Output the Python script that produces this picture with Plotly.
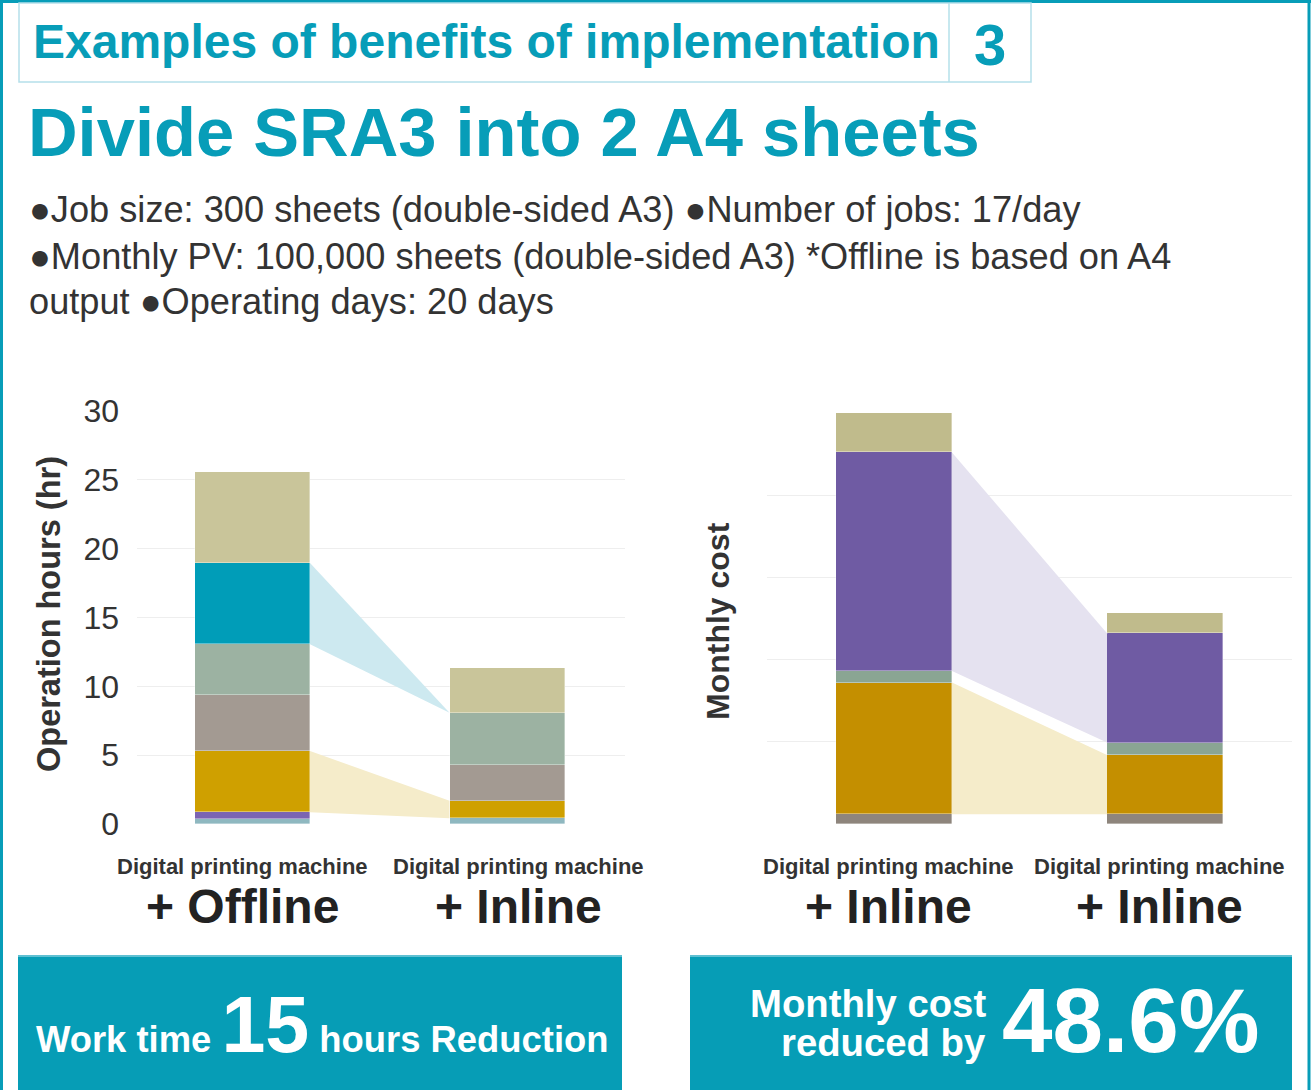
import plotly.graph_objects as go
import numpy as np

FONT = "Liberation Sans, Arial, Helvetica, sans-serif"
TEAL = "#079db8"
DARK = "#333333"

# ---------------- data ----------------
cat_top = ["Digital printing machine", "Digital printing machine"]
hours_cat_bottom = ["+ Offline", "+ Inline"]
cost_cat_bottom = ["+ Inline", "+ Inline"]
hours_ticks = [0, 5, 10, 15, 20, 25, 30]

# Operation hours (hr), stacked bottom -> top
hours_names = ["Item 1", "Item 2", "Item 3", "Item 4", "Item 5", "Item 6", "Item 7"]
hours_item1 = [0.35, 0.41]
hours_item2 = [0.50, 0.0]
hours_item3 = [4.45, 1.28]
hours_item4 = [4.10, 2.62]
hours_item5 = [3.65, 3.77]
hours_item6 = [5.90, 0.0]
hours_item7 = [6.65, 3.25]
hours_colors = ["#8fb8c0", "#7b64b2", "#cfa000", "#a39a92", "#9cb2a2", "#009db8", "#c9c59a"]
hours_links = {2: "#f5ecca", 5: "#cde9f0"}  # series index -> connector colour

# Monthly cost (relative), stacked bottom -> top
cost_names = ["Item A", "Item B", "Item C", "Item D", "Item E"]
cost_itemA = [0.12, 0.12]
cost_itemB = [1.60, 0.72]
cost_itemC = [0.14, 0.15]
cost_itemD = [2.66, 1.33]
cost_itemE = [0.48, 0.25]
cost_colors = ["#8e857c", "#c48f00", "#8aa593", "#6f5ba3", "#c0bb8c"]
cost_links = {1: "#f5ecca", 3: "#e5e2f0"}

hours_series = [hours_item1, hours_item2, hours_item3, hours_item4, hours_item5, hours_item6, hours_item7]
cost_series = [cost_itemA, cost_itemB, cost_itemC, cost_itemD, cost_itemE]

W, H = 1311, 1090
def px(x):
    return x / W
def py(y):
    return 1 - y / H

fig = go.Figure()

def add_chart(series, names, colors, links, xa, ya, width):
    xs = [0, 1]
    arr = np.array(series, dtype=float)
    cum = np.cumsum(arr, axis=0)
    base = cum - arr
    # connectors between the two bars
    for idx, col in links.items():
        xl = xs[0] + width / 2
        xr = xs[1] - width / 2
        fig.add_trace(go.Scatter(
            x=[xl, xl, xr, xr, xl],
            y=[base[idx][0], cum[idx][0], cum[idx][1], base[idx][1], base[idx][0]],
            fill="toself", fillcolor=col, mode="none", hoverinfo="skip",
            showlegend=False, xaxis=xa, yaxis=ya))
    for i, (vals, name, col) in enumerate(zip(series, names, colors)):
        fig.add_trace(go.Bar(
            x=xs, y=vals, name=name, width=width,
            marker=dict(color=col, line=dict(width=0.6, color="rgba(255,255,255,0.6)")),
            showlegend=False, xaxis=xa, yaxis=ya))

# pixel geometry
L_x0, L_x1, L_c0, L_c1, L_bw = 137, 625, 252.5, 507, 115
R_x0, R_x1, R_c0, R_c1, R_bw = 767, 1292, 894, 1165, 116
L_step = L_c1 - L_c0
R_step = R_c1 - R_c0

add_chart(hours_series, hours_names, hours_colors, hours_links, "x", "y", L_bw / L_step)
add_chart(cost_series, cost_names, cost_colors, cost_links, "x2", "y2", R_bw / R_step)

grid = "#eeeeee"
fig.update_layout(
    template="none",
    width=W, height=H, autosize=False,
    margin=dict(l=0, r=0, t=0, b=0, pad=0),
    paper_bgcolor="white", plot_bgcolor="white",
    barmode="stack", bargap=0,
    font=dict(family=FONT, color=DARK),
    xaxis=dict(domain=[px(L_x0), px(L_x1)], automargin=False,
               range=[-(L_c0 - L_x0) / L_step, 1 + (L_x1 - L_c1) / L_step],
               showticklabels=False, showgrid=False, zeroline=False, showline=False, ticks=""),
    yaxis=dict(domain=[py(824), py(411)], range=[0, 30], tickvals=hours_ticks, automargin=False,
               showgrid=True, gridcolor=grid, gridwidth=1, zeroline=False, ticks="",
               tickfont=dict(size=32, color=DARK, family=FONT), ticklabelstandoff=17,
               showline=False),
    xaxis2=dict(domain=[px(R_x0), px(R_x1)], automargin=False,
                range=[-(R_c0 - R_x0) / R_step, 1 + (R_x1 - R_c1) / R_step],
                showticklabels=False, showgrid=False, zeroline=False, showline=False, ticks="",
                anchor="y2"),
    yaxis2=dict(domain=[py(824), py(413)], range=[0, 5], dtick=1, automargin=False,
                showgrid=True, gridcolor=grid, gridwidth=1, zeroline=False, ticks="",
                showticklabels=False, showline=False, anchor="x2"),
)

shapes = []
# outer border
shapes.append(dict(type="line", xref="paper", yref="paper", x0=px(1.5), x1=px(1.5), y0=0, y1=1,
                   line=dict(color=TEAL, width=3)))
shapes.append(dict(type="line", xref="paper", yref="paper", x0=0, x1=1, y0=py(1.5), y1=py(1.5),
                   line=dict(color=TEAL, width=3)))
shapes.append(dict(type="line", xref="paper", yref="paper", x0=px(1309), x1=px(1309), y0=0, y1=1,
                   line=dict(color=TEAL, width=3)))
# title box
shapes.append(dict(type="rect", xref="paper", yref="paper", x0=px(19), x1=px(1031), y0=py(82), y1=py(3),
                   line=dict(color="#b5e0ea", width=1.5), fillcolor="white"))
shapes.append(dict(type="line", xref="paper", yref="paper", x0=px(949), x1=px(949), y0=py(82), y1=py(3),
                   line=dict(color="#b5e0ea", width=1.5)))
# bottom boxes
for bx0, bx1 in [(18, 622), (690, 1292)]:
    shapes.append(dict(type="rect", xref="paper", yref="paper", x0=px(bx0), x1=px(bx1), y0=0, y1=py(955),
                       line=dict(width=0), fillcolor="#069db6", layer="below"))
    shapes.append(dict(type="line", xref="paper", yref="paper", x0=px(bx0), x1=px(bx1),
                       y0=py(956), y1=py(956), line=dict(color="#5fc0d2", width=2), layer="below"))
fig.update_layout(shapes=shapes)

ann = []
def text(x, y, s, size, color=DARK, bold=False, xanchor="left", yanchor="middle", angle=0,
         align="left", xref="paper", xshift=0):
    ann.append(dict(x=x, y=y, xref=xref, yref="paper", text=(f"<b>{s}</b>" if bold else s),
                    showarrow=False, xanchor=xanchor, yanchor=yanchor, textangle=angle, align=align,
                    xshift=xshift, font=dict(size=size, color=color, family=FONT)))

text(px(31), py(42), "Examples of benefits of implementation", 48, TEAL, True)
text(px(990), py(45), "3", 58, TEAL, True, xanchor="center")
text(px(26), py(133), "Divide SRA3 into 2 A4 sheets", 68.7, TEAL, True)
text(px(27), py(210), "●Job size: 300 sheets (double-sided A3) ●Number of jobs: 17/day", 36.2)
text(px(27), py(256), "●Monthly PV: 100,000 sheets (double-sided A3) *Offline is based on A4", 36.2)
text(px(27), py(301), "output ●Operating days: 20 days", 36.2)

text(px(49), py(614), "Operation hours (hr)", 32.5, DARK, True, xanchor="center", angle=-90)
text(px(718), py(621), "Monthly cost", 32, DARK, True, xanchor="center", angle=-90)

left_shift = [-10, 11]
right_shift = [-6, -6]
for i in range(2):
    text(i, py(866), cat_top[i], 22, DARK, True, xanchor="center", xref="x", xshift=left_shift[i])
    text(i, py(906), hours_cat_bottom[i], 48, "#222222", True, xanchor="center", xref="x",
         xshift=left_shift[i])
    text(i, py(866), cat_top[i], 22, DARK, True, xanchor="center", xref="x2", xshift=right_shift[i])
    text(i, py(906), cost_cat_bottom[i], 48, "#222222", True, xanchor="center", xref="x2",
         xshift=right_shift[i])

text(px(322), py(1024), "Work time <span style='font-size:79px'>15</span> hours Reduction", 36.4,
     "white", True, xanchor="center")
text(px(988), py(1003), "Monthly cost", 38.3, "white", True, xanchor="right", align="right")
text(px(988), py(1042), "reduced by", 38.3, "white", True, xanchor="right", align="right")
text(px(1000), py(1020), "48.6%", 90.8, "white", True)

fig.update_layout(annotations=ann)
fig.write_html(
    "out.html",
    config={"displayModeBar": False},
    post_script=(
        "document.documentElement.style.margin='0';document.body.style.margin='0';"
        "document.body.style.padding='0';document.body.style.overflow='hidden';"
    ),
)
